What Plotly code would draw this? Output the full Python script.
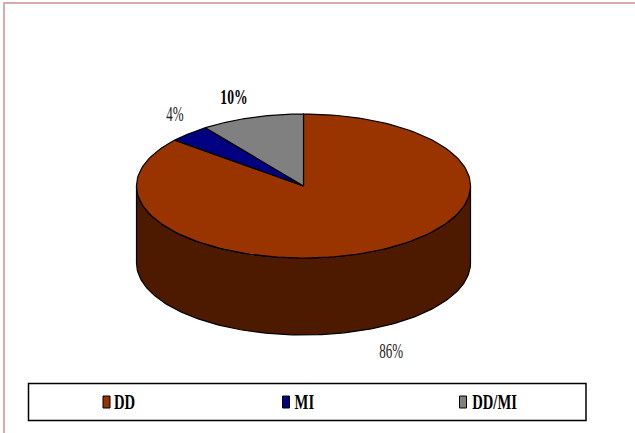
import numpy as np
import plotly.graph_objects as go

categories = ["DD", "MI", "DD/MI"]
shares = [86, 4, 10]
top_colors = ["#993300", "#000080", "#808080"]
side_color = "#4D1A00"

W, H = 635, 433
CX, CY, RX, RY, DEPTH = 303.5, 186, 167, 72, 77
FONT = "Liberation Serif"

label_pos = [(391, 351), (175, 114), (234, 96)]
label_style = [
    dict(size=21, color="#222222"),
    dict(size=21, color="#222222"),
    dict(size=22, color="#000000", weight="bold"),
]
legend_marker_x = [106.5, 286, 463]
legend_text_x = [108, 289, 462]
LEGEND_Y = 402


def arc(a0, a1, n=160, dy=0.0):
    t = np.radians(np.linspace(a0, a1, n))
    return CX + RX * np.sin(t), CY + dy - RY * np.cos(t)


fig = go.Figure()

# Side wall (front half of the rim)
xt, yt = arc(90, 270)
xb, yb = arc(270, 90, dy=DEPTH)
fig.add_trace(go.Scatter(
    x=np.r_[xt, xb, xt[0]], y=np.r_[yt, yb, yt[0]],
    mode="lines", fill="toself", fillcolor=side_color,
    line=dict(color="#000000", width=1.2), showlegend=False, hoverinfo="skip",
))

# Top face
edges = np.cumsum([0] + shares) / sum(shares) * 360
for i, cat in enumerate(categories):
    x, y = arc(edges[i], edges[i + 1])
    fig.add_trace(go.Scatter(
        x=np.r_[CX, x, CX], y=np.r_[CY, y, CY],
        mode="lines", fill="toself", fillcolor=top_colors[i],
        line=dict(color="#000000", width=1.2), name=cat,
        showlegend=False, hoverinfo="name",
    ))

annotations = []
for i, cat in enumerate(categories):
    annotations.append(dict(
        x=label_pos[i][0], y=label_pos[i][1], text=f"{shares[i]}%",
        showarrow=False, xref="x", yref="y",
        font=dict(family=FONT, **label_style[i]),
    ))
    annotations.append(dict(
        x=legend_text_x[i], y=LEGEND_Y, text=cat, showarrow=False,
        xref="x", yref="y", xanchor="left",
        font=dict(family=FONT, size=20, color="#000000", weight="bold"),
    ))

PINK = "#D9AAAA"
shapes = [
    dict(type="rect", x0=3, x1=5, y0=2, y1=H, fillcolor=PINK, line_width=0, layer="below"),
    dict(type="rect", x0=3, x1=W, y0=2, y1=4, fillcolor=PINK, line_width=0, layer="below"),
    dict(type="rect", x0=28.5, x1=586, y0=383.5, y1=420.5,
         line=dict(color="#000000", width=1.5), fillcolor="rgba(0,0,0,0)"),
]
for i in range(len(categories)):
    shapes.append(dict(
        type="rect", x0=legend_marker_x[i] - 3.5, x1=legend_marker_x[i] + 3.5,
        y0=LEGEND_Y - 6, y1=LEGEND_Y + 6, fillcolor=top_colors[i],
        line=dict(color="#000000", width=1),
    ))

fig.update_layout(
    width=W, height=H, autosize=False,
    margin=dict(l=0, r=0, t=0, b=0, pad=0),
    paper_bgcolor="#FFFFFF", plot_bgcolor="#FFFFFF",
    xaxis=dict(range=[0, W], visible=False, fixedrange=True),
    yaxis=dict(range=[H, 0], visible=False, fixedrange=True),
    showlegend=False, annotations=annotations, shapes=shapes,
)

# Remove the page margin and narrow the serif text like the reference's condensed type.
post = """
document.body.style.margin = '0';
document.documentElement.style.overflow = 'hidden';
document.querySelectorAll('.annotation-text').forEach(function (t) {
  var s = t.textContent;
  var f = s.indexOf('%') >= 0 ? 0.62 : 0.73;
  var len = t.getComputedTextLength();
  t.setAttribute('textLength', len * f);
  t.setAttribute('lengthAdjust', 'spacingAndGlyphs');
});
"""
fig.write_html("out.html", config=dict(displayModeBar=False), post_script=post)
